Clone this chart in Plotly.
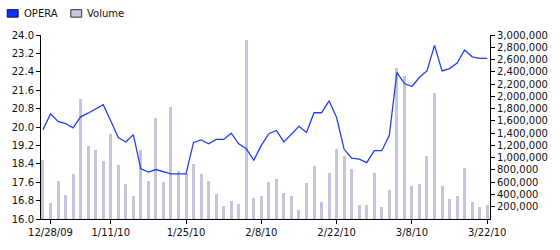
import plotly.graph_objects as go

# ---- data ----
day_index = list(range(60))
price = [19.88, 20.57, 20.24, 20.15, 19.96, 20.44, 20.60, 20.80, 20.97, 20.27,
         19.54, 19.35, 19.67, 18.18, 18.04, 18.15, 18.04, 17.96, 17.96, 17.96,
         19.33, 19.44, 19.27, 19.46, 19.46, 19.73, 19.27, 19.06, 18.56, 19.20,
         19.71, 19.85, 19.35, 19.67, 20.03, 19.76, 20.62, 20.62, 21.14, 20.41,
         19.03, 18.65, 18.60, 18.45, 18.97, 18.97, 19.64, 22.37, 21.89, 21.76,
         22.16, 22.44, 23.55, 22.44, 22.54, 22.78, 23.35, 23.05, 22.98, 22.98]
volume = [960000, 265000, 617000, 398000, 740000, 1964000, 1194000, 1117000, 938000, 1393000,
          877000, 566000, 372000, 1133000, 612000, 1653000, 597000, 1821000, 781000, 750000,
          892000, 740000, 627000, 413000, 219000, 291000, 245000, 2923000, 337000, 383000,
          602000, 658000, 429000, 367000, 153000, 582000, 872000, 276000, 750000, 1148000,
          1026000, 811000, 235000, 235000, 750000, 199000, 474000, 2464000, 2327000, 540000,
          566000, 1026000, 2056000, 540000, 321000, 367000, 826000, 276000, 199000, 230000]
tick_index = [1, 9, 19, 29, 39, 49, 59]
tick_labels = ["12/28/09", "1/11/10", "1/25/10", "2/8/10", "2/22/10", "3/8/10", "3/22/10"]
price_ticks = [16.0, 16.8, 17.6, 18.4, 19.2, 20.0, 20.8, 21.6, 22.4, 23.2, 24.0]
volume_ticks = [200000, 400000, 600000, 800000, 1000000, 1200000, 1400000,
                1600000, 1800000, 2000000, 2200000, 2400000, 2600000, 2800000, 3000000]
series_names = ["OPERA", "Volume"]

LINE_COLOR = "#1f3ff7"
BAR_COLOR = "#c5c5dd"
FONT = dict(family="DejaVu Sans", size=10, color="#111111")

W, H = 560, 250
ML, MR, MT, MB = 39, 69, 35, 19
PW, PH = W - ML - MR, H - MT - MB

fig = go.Figure()
fig.add_trace(go.Bar(x=day_index, y=volume, yaxis="y", marker=dict(color=BAR_COLOR, line=dict(width=0)),
                     width=0.4, name=series_names[1], showlegend=False, hoverinfo="skip"))
fig.add_trace(go.Scatter(x=day_index, y=price, yaxis="y2", mode="lines",
                         line=dict(color=LINE_COLOR, width=1.3), name=series_names[0], showlegend=False))

axis_common = dict(showgrid=False, zeroline=False, showline=True, linecolor="black", linewidth=1,
                   ticks="outside", ticklen=4, tickcolor="black", tickwidth=1, tickfont=FONT)

fig.update_layout(
    width=W, height=H,
    margin=dict(l=ML, r=MR, t=MT, b=MB, pad=0),
    paper_bgcolor="white", plot_bgcolor="white",
    bargap=0,
    xaxis=dict(range=[-0.26, 59.37], tickmode="array", tickvals=tick_index, ticktext=tick_labels,
               **axis_common),
    yaxis=dict(range=[0, 3000000], side="right", tickmode="array", tickvals=volume_ticks,
               tickformat=",d", **axis_common),
    yaxis2=dict(range=[16.0, 24.0], side="left", overlaying="y", tickmode="array",
                tickvals=price_ticks, tickformat=".1f", **axis_common),
    showlegend=False,
)

def px_x(p):
    return (p - ML) / PW

def px_y(p):
    return (H - MB - p) / PH

legend_items = [
    (series_names[0], 5, 16, "#0a32ff", "#101040", 20),
    (series_names[1], 69, 80, BAR_COLOR, "#303040", 83),
]
for name, x0, x1, fill, border, tx in legend_items:
    fig.add_shape(type="rect", xref="paper", yref="paper",
                  x0=px_x(x0), x1=px_x(x1), y0=px_y(16), y1=px_y(8),
                  fillcolor=fill, line=dict(color=border, width=1))
    fig.add_annotation(text=name, xref="paper", yref="paper", x=px_x(tx), y=px_y(12.5),
                       xanchor="left", yanchor="middle", showarrow=False, font=FONT)

fig.write_html("out.html")
